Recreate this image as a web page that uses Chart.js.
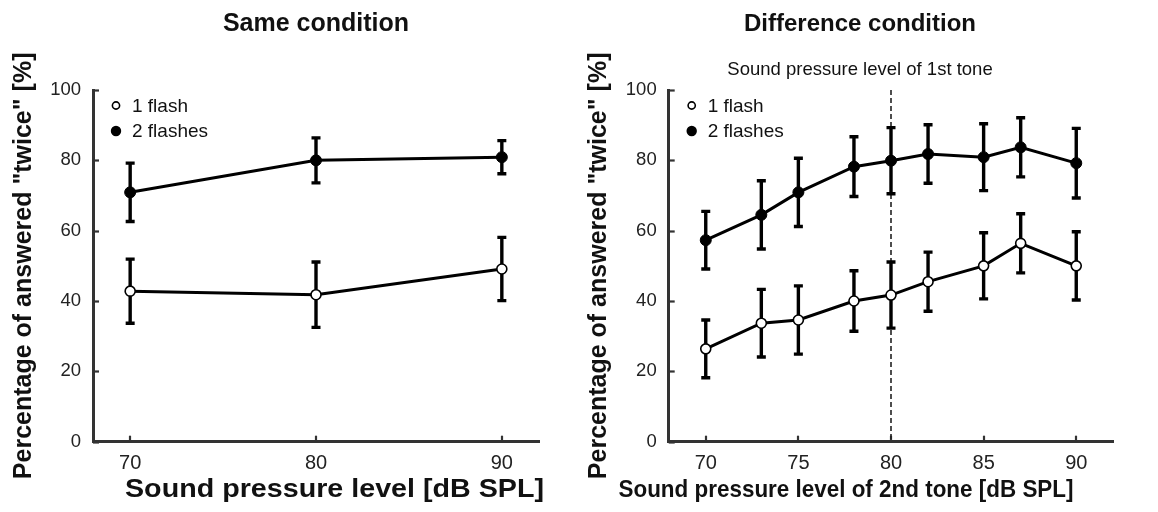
<!DOCTYPE html>
<html>
<head>
<meta charset="utf-8">
<script src="https://cdn.jsdelivr.net/npm/chart.js@4/dist/chart.umd.min.js"></script>
<style>
  html, body { margin: 0; padding: 0; background: #fff; }
  #wrap { position: relative; width: 1158px; height: 512px; overflow: hidden; }
  canvas { position: absolute; top: 0; }
</style>
</head>
<body>
<div id="wrap">
  <canvas id="left" width="579" height="512" style="left:0px"></canvas>
  <canvas id="right" width="579" height="512" style="left:579px"></canvas>
</div>
<script>
// ---- data ----
const seriesLabels = ['1 flash', '2 flashes'];
const yTicks = [0, 20, 40, 60, 80, 100];

// Same condition
const sameLevels = [70, 80, 90];
const sameXTicks = [70, 80, 90];
const sameOneFlash = [42.8, 41.8, 49.1];
const sameOneFlashErr = [9.1, 9.3, 9.0];
const sameTwoFlashes = [70.9, 80.0, 80.9];
const sameTwoFlashesErr = [8.3, 6.4, 4.7];

// Difference condition
const diffLevels = [70, 73, 75, 78, 80, 82, 85, 87, 90];
const diffXTicks = [70, 75, 80, 85, 90];
const diffOneFlash = [26.4, 33.7, 34.6, 40.0, 41.7, 45.5, 50.0, 56.4, 50.0];
const diffOneFlashErr = [8.2, 9.6, 9.7, 8.6, 9.4, 8.4, 9.4, 8.4, 9.7];
const diffTwoFlashes = [57.3, 64.5, 70.9, 78.2, 79.9, 81.8, 80.9, 83.7, 79.2];
const diffTwoFlashesErr = [8.2, 9.7, 9.7, 8.5, 9.4, 8.3, 9.5, 8.4, 9.9];
const firstToneLevel = 80;

const FONT = "'Liberation Sans', Arial, Helvetica, sans-serif";
const AXIS_COLOR = '#333';
const TEXT_COLOR = '#111';

function pts(xs, ys) { return xs.map((x, i) => ({ x: x, y: ys[i] })); }

function makeChart(id, p) {
  const datasets = [
    {
      label: seriesLabels[0],
      data: pts(p.levels, p.one),
      err: p.oneErr,
      borderColor: '#000', borderWidth: 3,
      pointRadius: 5, pointBackgroundColor: '#fff', pointBorderColor: '#000', pointBorderWidth: 1.6,
      tension: 0, fill: false
    },
    {
      label: seriesLabels[1],
      data: pts(p.levels, p.two),
      err: p.twoErr,
      borderColor: '#000', borderWidth: 3,
      pointRadius: 5.5, pointBackgroundColor: '#000', pointBorderColor: '#000', pointBorderWidth: 1,
      tension: 0, fill: false
    }
  ];

  const decor = {
    id: 'decor_' + id,
    beforeDatasetsDraw(chart) {
      const ctx = chart.ctx, xs = chart.scales.x, ys = chart.scales.y, a = chart.chartArea;
      ctx.save();
      // inward tick marks
      ctx.strokeStyle = AXIS_COLOR; ctx.lineWidth = 2.2;
      ys.ticks.forEach(t => {
        const py = Math.round(ys.getPixelForValue(t.value)) + 0.5;
        ctx.beginPath(); ctx.moveTo(a.left, py); ctx.lineTo(a.left + 6, py); ctx.stroke();
      });
      xs.ticks.forEach(t => {
        const px = Math.round(xs.getPixelForValue(t.value));
        ctx.beginPath(); ctx.moveTo(px, a.bottom); ctx.lineTo(px, a.bottom - 6); ctx.stroke();
      });
      // dashed reference line
      if (p.refLevel != null) {
        const px = xs.getPixelForValue(p.refLevel);
        ctx.setLineDash([5, 3]); ctx.lineWidth = 1.6; ctx.strokeStyle = '#222';
        ctx.beginPath(); ctx.moveTo(px, ys.getPixelForValue(100)); ctx.lineTo(px, ys.getPixelForValue(0)); ctx.stroke();
        ctx.setLineDash([]);
      }
      // error bars
      ctx.strokeStyle = '#000'; ctx.lineWidth = 3.4; ctx.lineCap = 'butt';
      chart.data.datasets.forEach(ds => {
        ds.data.forEach((d, i) => {
          const e = ds.err[i];
          const px = xs.getPixelForValue(d.x);
          const top = ys.getPixelForValue(d.y + e), bot = ys.getPixelForValue(d.y - e);
          ctx.beginPath();
          ctx.moveTo(px, top); ctx.lineTo(px, bot);
          ctx.moveTo(px - 4.5, top); ctx.lineTo(px + 4.5, top);
          ctx.moveTo(px - 4.5, bot); ctx.lineTo(px + 4.5, bot);
          ctx.stroke();
        });
      });
      ctx.restore();
    },
    afterDraw(chart) {
      const ctx = chart.ctx, a = chart.chartArea;
      ctx.save();
      ctx.fillStyle = TEXT_COLOR;
      // panel title
      const cx = (a.left + a.right) / 2 + p.titleShift;
      ctx.font = 'bold ' + p.titleSize + 'px ' + FONT;
      ctx.textAlign = 'center'; ctx.textBaseline = 'middle';
      ctx.fillText(p.title, cx, 24);
      if (p.refLabel) {
        ctx.font = '18.5px ' + FONT;
        ctx.fillText(p.refLabel, cx, 70);
      }
      // x-axis title, fitted to the reference width
      ctx.font = 'bold ' + p.xTitleSize + 'px ' + FONT;
      const w = ctx.measureText(p.xTitle).width;
      const sx = p.xTitleWidth / w;
      ctx.save();
      ctx.translate((a.left + a.right) / 2 + p.xTitleShift, 490);
      ctx.scale(sx, 1);
      ctx.fillText(p.xTitle, 0, 0);
      ctx.restore();
      // legend
      const lx = a.left + 23;
      const rows = [a.top + 15.5, a.top + 41];
      ctx.font = '19px ' + FONT;
      ctx.textAlign = 'left';
      chart.data.datasets.forEach((ds, i) => {
        ctx.beginPath();
        ctx.arc(lx, rows[i], i === 0 ? 3.6 : 4.4, 0, Math.PI * 2);
        ctx.fillStyle = i === 0 ? '#fff' : '#000';
        ctx.fill();
        ctx.lineWidth = 1.6; ctx.strokeStyle = '#000'; ctx.stroke();
        ctx.fillStyle = TEXT_COLOR;
        ctx.fillText(ds.label, lx + 16, rows[i] + 1);
      });
      ctx.restore();
    }
  };

  return new Chart(document.getElementById(id), {
    type: 'line',
    data: { datasets: datasets },
    options: {
      responsive: false,
      animation: false,
      devicePixelRatio: 1,
      layout: { padding: { left: 0, right: p.padRight, top: 90, bottom: 0 } },
      plugins: { legend: { display: false }, tooltip: { enabled: false }, title: { display: false } },
      scales: {
        x: {
          type: 'linear', min: 68, max: 92, offset: false,
          afterBuildTicks: s => { s.ticks = p.xTicks.map(v => ({ value: v })); },
          afterFit: s => { s.height = 70.3; },
          grid: { display: false, drawTicks: false },
          border: { display: true, color: AXIS_COLOR, width: 3 },
          ticks: { font: { family: FONT, size: 20 }, color: '#222', padding: 10, maxRotation: 0, autoSkip: false },
          title: { display: false }
        },
        y: {
          type: 'linear', min: 0, max: 100,
          afterBuildTicks: s => { s.ticks = yTicks.map(v => ({ value: v })); },
          afterFit: s => { s.width = p.yWidth; },
          grid: { display: false, drawTicks: false },
          border: { display: true, color: AXIS_COLOR, width: 3 },
          ticks: { font: { family: FONT, size: 18.5 }, color: '#222', padding: 12 },
          title: { display: true, text: 'Percentage of answered "twice" [%]', color: TEXT_COLOR,
                   font: { family: FONT, size: 25, weight: 'bold' }, padding: { top: p.yTitlePad, bottom: 0 } }
        }
      }
    },
    plugins: [decor]
  });
}

makeChart('left', {
  levels: sameLevels, one: sameOneFlash, oneErr: sameOneFlashErr,
  two: sameTwoFlashes, twoErr: sameTwoFlashesErr,
  xTicks: sameXTicks, refLevel: null, refLabel: null,
  title: 'Same condition', titleShift: 0, titleSize: 25,
  xTitle: 'Sound pressure level [dB SPL]', xTitleSize: 25, xTitleWidth: 419, xTitleShift: 18.5,
  yWidth: 93, padRight: 40, yTitlePad: 9
});

makeChart('right', {
  levels: diffLevels, one: diffOneFlash, oneErr: diffOneFlashErr,
  two: diffTwoFlashes, twoErr: diffTwoFlashesErr,
  xTicks: diffXTicks, refLevel: firstToneLevel, refLabel: 'Sound pressure level of 1st tone',
  title: 'Difference condition', titleShift: -31, titleSize: 24,
  xTitle: 'Sound pressure level of 2nd tone [dB SPL]', xTitleSize: 24, xTitleWidth: 455, xTitleShift: -45,
  yWidth: 89.7, padRight: 44.7, yTitlePad: 5
});
</script>
</body>
</html>
